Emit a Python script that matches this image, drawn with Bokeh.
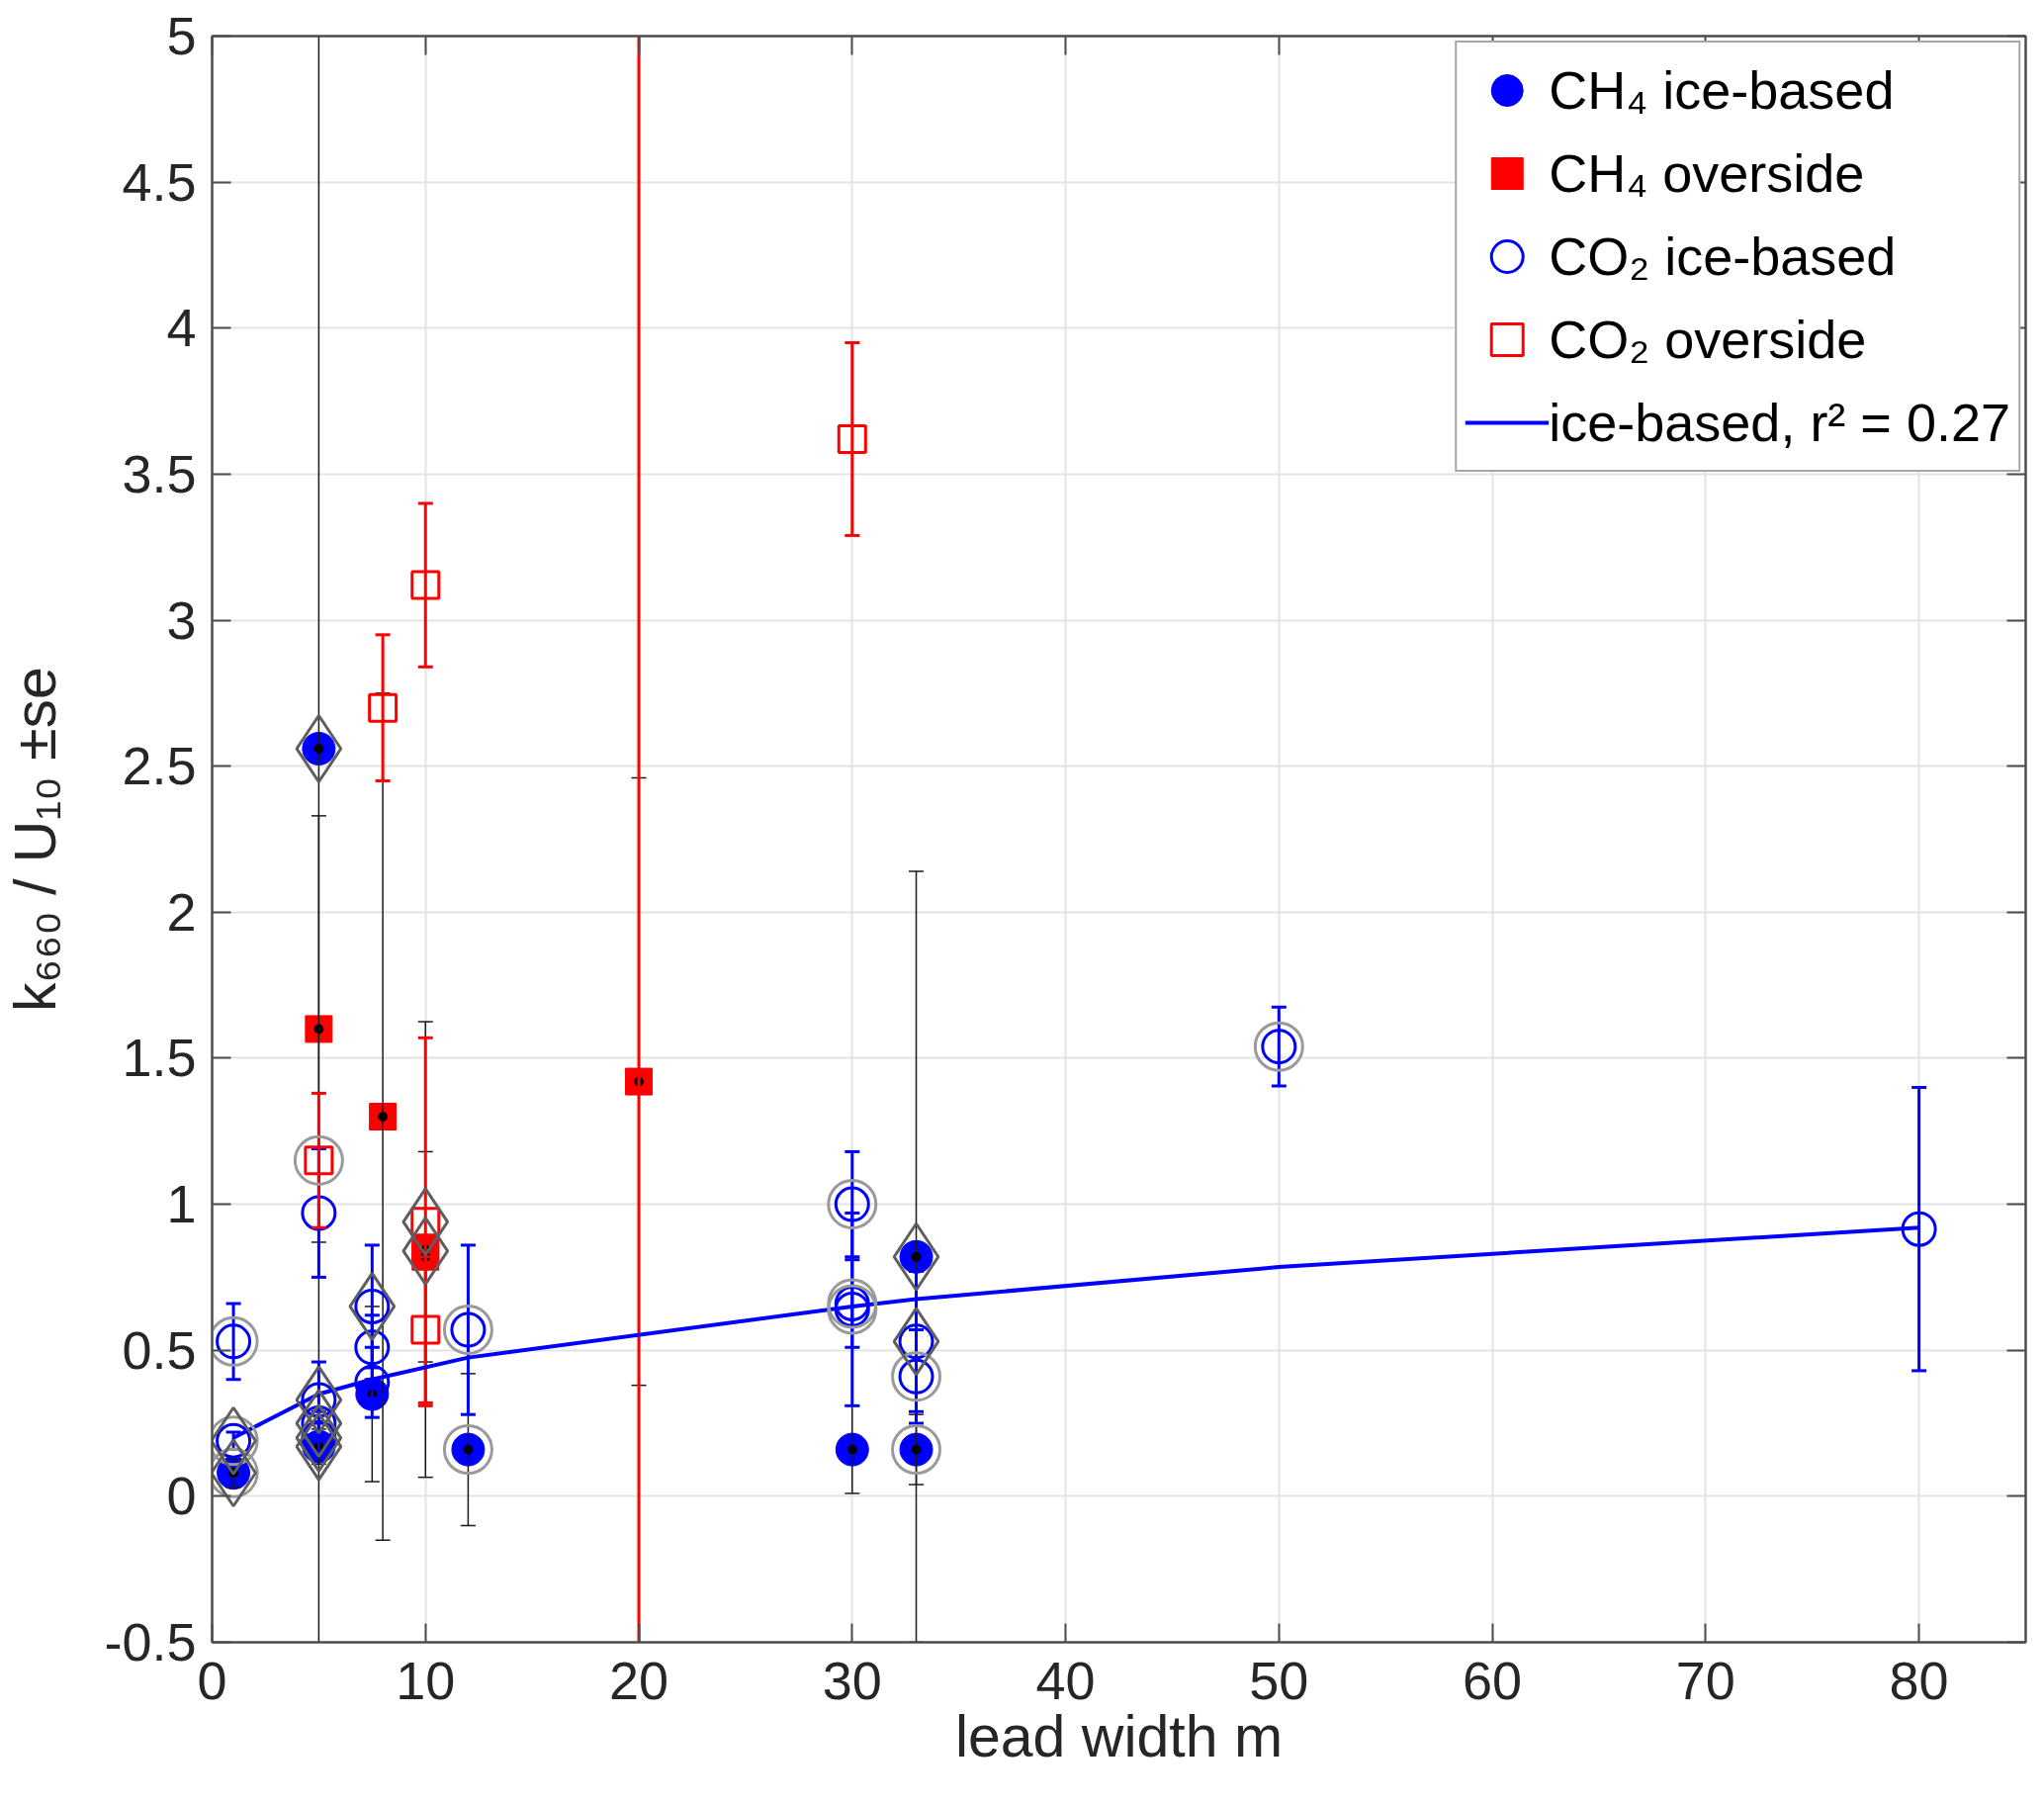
from bokeh.plotting import figure
from bokeh.models import (LinearAxis, FixedTicker, Legend, LegendItem, Range1d,
                          CustomJSTickFormatter)
from bokeh.embed import file_html
from bokeh.resources import INLINE

# CH4, ice-based chambers (value and standard error)
ch4_ice_x = [1, 5, 5, 7.5, 12, 30, 33, 33]
ch4_ice_y = [0.08, 2.56, 0.17, 0.35, 0.16, 0.16, 0.16, 0.82]
ch4_ice_se = [0.05, 3.2, 0.06, 0.30, 0.26, 0.15, 0.12, 1.32]

# CH4, overside
ch4_over_x = [5, 8, 10, 10, 20]
ch4_over_y = [1.60, 1.30, 0.82, 0.845, 1.42]
ch4_over_se = [0.73, 1.45, 0.36, 0.78, 1.04]

# CO2, ice-based
co2_ice_x = [1, 1, 5, 5, 5, 5, 7.5, 7.5, 7.5, 12, 30, 30, 30, 33, 33, 50, 80]
co2_ice_y = [0.53, 0.19, 0.97, 0.33, 0.25, 0.20, 0.65, 0.51, 0.39, 0.57,
             1.00, 0.66, 0.64, 0.53, 0.41, 1.54, 0.915]
co2_ice_se = [0.13, 0.03, 0.22, 0.13, 0.04, 0.05, 0.21, 0.11, 0.12, 0.29,
              0.18, 0.15, 0.33, 0.24, 0.16, 0.135, 0.485]

# CO2, overside (the x=20 value lies above the plotted range)
co2_over_x = [5, 8, 10, 10, 10, 20, 30]
co2_over_y = [1.15, 2.70, 3.12, 0.94, 0.57, 6.0, 3.62]
co2_over_se = [0.23, 0.25, 0.28, 0.63, 0.25, 7.0, 0.33]

# flagged points: grey rings and grey diamonds
ring_x = [1, 1, 1, 5, 12, 12, 30, 30, 30, 33, 33, 50]
ring_y = [0.53, 0.19, 0.08, 1.15, 0.57, 0.16, 1.00, 0.66, 0.64, 0.41, 0.16, 1.54]
diamond_x = [1, 1, 5, 5, 5, 5, 5, 7.5, 10, 10, 33, 33]
diamond_y = [0.19, 0.08, 2.56, 0.33, 0.25, 0.20, 0.17, 0.65, 0.94, 0.84, 0.82, 0.53]

# ice-based fit, r2 = 0.27
fit_x = [1, 5, 7.5, 12, 30, 33, 50, 80]
fit_y = [0.20, 0.35, 0.40, 0.475, 0.65, 0.675, 0.785, 0.92]

x_ticks = [0, 10, 20, 30, 40, 50, 60, 70, 80]
y_ticks = [-0.5, 0, 0.5, 1, 1.5, 2, 2.5, 3, 3.5, 4, 4.5, 5]
y_tick_labels = ["-0.5", "0", "0.5", "1", "1.5", "2", "2.5", "3", "3.5", "4", "4.5", "5"]

FONT = "Liberation Sans"
INK = "#262626"
FRAME = "#4d4d4d"
BLUE = "#0000ff"
RED = "#ff0000"

p = figure(
    width=2051,
    height=1809,
    x_range=Range1d(0, 85),
    y_range=Range1d(-0.5, 5),
    output_backend="svg",
    toolbar_location=None,
    tools="",
    min_border_left=213,
    min_border_right=3,
    min_border_top=36,
    min_border_bottom=149,
)
xa = p.below[0]
ya = p.left[0]


def errorbars(x, y, se, color, width):
    lo = [v - s for v, s in zip(y, se)]
    hi = [v + s for v, s in zip(y, se)]
    p.segment(x0=x, y0=lo, x1=x, y1=hi, line_color=color, line_width=width)
    p.scatter(x + x, lo + hi, marker="dash", size=15, line_color=color, line_width=width)


# CH4 markers with black error bars and centre dots
r_ch4_ice = p.scatter(ch4_ice_x, ch4_ice_y, marker="circle", size=33,
                      fill_color=BLUE, line_color=BLUE, line_width=1)
r_ch4_over = p.scatter(ch4_over_x, ch4_over_y, marker="square", size=27,
                       fill_color=RED, line_color=RED, line_width=1)
errorbars(ch4_ice_x, ch4_ice_y, ch4_ice_se, "#1a1a1a", 1.5)
errorbars(ch4_over_x, ch4_over_y, ch4_over_se, "#1a1a1a", 1.5)
p.scatter(ch4_ice_x + ch4_over_x, ch4_ice_y + ch4_over_y, marker="circle", size=9,
          fill_color="black", line_color="black")

# CO2 markers with coloured error bars
errorbars(co2_ice_x, co2_ice_y, co2_ice_se, BLUE, 3)
r_co2_ice = p.scatter(co2_ice_x, co2_ice_y, marker="circle", size=33,
                      fill_color=None, line_color=BLUE, line_width=3)
errorbars(co2_over_x, co2_over_y, co2_over_se, RED, 3)
r_co2_over = p.scatter(co2_over_x, co2_over_y, marker="square", size=27,
                       fill_color=None, line_color=RED, line_width=3)

# fit line
r_fit = p.line(fit_x, fit_y, line_color=BLUE, line_width=4)

# flags
p.scatter(ring_x, ring_y, marker="circle", size=48, fill_color=None,
          line_color="#9a9a9a", line_width=3)
p.scatter(diamond_x, diamond_y, marker="diamond", size=67, fill_color=None,
          line_color="#5e5e5e", line_width=3)

# box ticks on top and right, without labels
blank = CustomJSTickFormatter(code="return ''")
xa_top = LinearAxis(formatter=blank, major_label_standoff=0,
                    major_label_text_font_size="1px")
ya_right = LinearAxis(formatter=blank, major_label_standoff=0,
                      major_label_text_font_size="1px")
p.add_layout(xa_top, "above")
p.add_layout(ya_right, "right")

for ax in (xa, xa_top):
    ax.ticker = FixedTicker(ticks=x_ticks)
for ax in (ya, ya_right):
    ax.ticker = FixedTicker(ticks=y_ticks)
for ax in (xa, ya, xa_top, ya_right):
    ax.major_tick_in = 19
    ax.major_tick_out = 0
    ax.minor_tick_line_color = None
    ax.axis_line_color = FRAME
    ax.axis_line_width = 2
    ax.major_tick_line_color = FRAME
    ax.major_tick_line_width = 2
    ax.major_label_text_font = FONT
    ax.major_label_text_color = INK
    ax.axis_label_text_font = FONT
    ax.axis_label_text_color = INK
    ax.axis_label_text_font_style = "normal"

ya.major_label_overrides = {t: s for t, s in zip(y_ticks, y_tick_labels)}
xa.major_label_text_font_size = "54px"
ya.major_label_text_font_size = "54px"
xa.major_label_standoff = 20
ya.major_label_standoff = 16
xa.axis_label = "lead width m"
ya.axis_label = "k₆₆₀ / U₁₀ ±se"
xa.axis_label_text_font_size = "59px"
ya.axis_label_text_font_size = "59px"
xa.axis_label_standoff = 2
ya.axis_label_standoff = 33

p.xgrid.ticker = FixedTicker(ticks=x_ticks)
p.ygrid.ticker = FixedTicker(ticks=y_ticks)
p.grid.grid_line_color = "#e3e3e3"
p.grid.grid_line_width = 2
p.outline_line_color = FRAME
p.outline_line_width = 2
p.background_fill_color = "white"
p.border_fill_color = "white"

legend = Legend(
    items=[
        LegendItem(label="CH₄ ice-based", renderers=[r_ch4_ice]),
        LegendItem(label="CH₄ overside", renderers=[r_ch4_over]),
        LegendItem(label="CO₂ ice-based", renderers=[r_co2_ice]),
        LegendItem(label="CO₂ overside", renderers=[r_co2_over]),
        LegendItem(label="ice-based, r² = 0.27", renderers=[r_fit]),
    ],
    location="top_right",
    margin=5,
    padding=8,
    spacing=4,
    glyph_width=85,
    glyph_height=80,
    label_height=80,
    label_standoff=0,
    label_text_font=FONT,
    label_text_font_size="54px",
    label_text_color="black",
    border_line_color=FRAME,
    border_line_width=2,
    background_fill_color="white",
    background_fill_alpha=1,
)
p.add_layout(legend)

open("out.html", "w").write(file_html(p, INLINE))
